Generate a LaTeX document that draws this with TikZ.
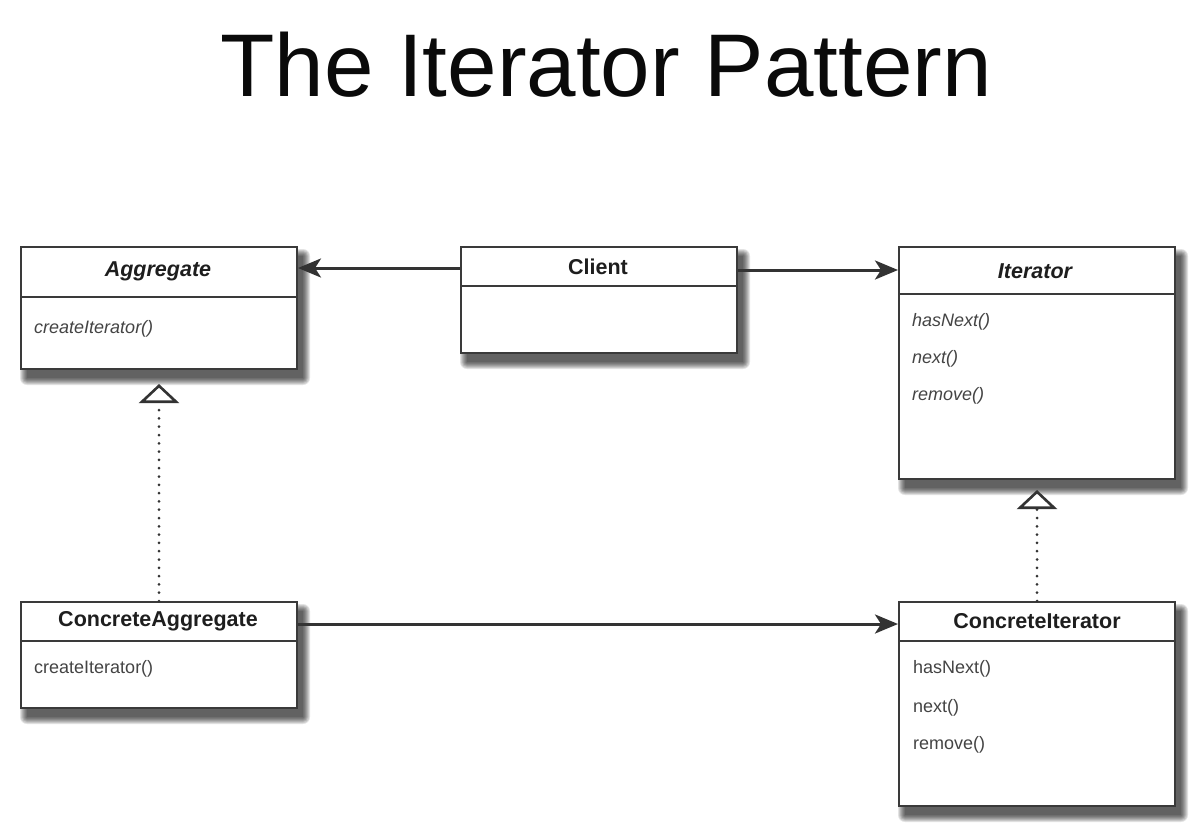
\documentclass[tikz,border=0pt]{standalone}
\usepackage{fontspec}
\setmainfont{Liberation Sans}
\usetikzlibrary{arrows.meta,calc}
\pgfdeclarelayer{bg}
\pgfdeclarelayer{shadowlayer}
\pgfsetlayers{bg,shadowlayer,main}
\definecolor{boxline}{HTML}{3A3A3A}
\definecolor{linecol}{HTML}{333333}
\definecolor{txtdark}{HTML}{1E1E1E}
\definecolor{txtmeth}{HTML}{444444}
\definecolor{titlecol}{HTML}{0A0A0A}
\tikzset{
  umlbox/.style={draw=boxline, line width=2pt, fill=white, anchor=north west, inner sep=0pt},
  hdr/.style={font=\fontsize{21.5}{24}\selectfont\bfseries, text=txtdark, inner sep=0pt},
  meth/.style={font=\fontsize{18}{22}\selectfont, text=txtmeth, anchor=west, inner sep=0pt},
  divider/.style={draw=boxline, line width=1.8pt},
  assoc/.style={draw=linecol, line width=3pt, -{Stealth[length=23pt,width=19pt,inset=6pt]}},
  realize/.style={draw=linecol, line width=3pt, line cap=round, dash pattern=on 0pt off 8.3pt,
    -{Triangle[open, length=19pt, width=40pt, fill=white, line width=2.6pt]}},
}
\newcommand\umlshadow[1]{%
  \begin{pgfonlayer}{shadowlayer}
    \foreach \i in {0,...,7}{
      \fill[black, opacity=0.11, rounded corners=\i pt]
        ($(#1.north west)+(7-\i,10-\i)$) rectangle ($(#1.south east)+(5+\i,8+\i)$);
    }
  \end{pgfonlayer}}
\begin{document}
\begin{tikzpicture}[x=1pt, y=-1pt]
  \useasboundingbox (0,0) rectangle (1196,828);
  \begin{pgfonlayer}{bg}
    \fill[white] (0,0) rectangle (1196,828);
  \end{pgfonlayer}

  \node[font=\fontsize{89}{100}\selectfont, text=titlecol, anchor=base, inner sep=0pt] (title) at (606,96) {The Iterator Pattern};

  % Aggregate
  \node[umlbox, minimum width=276pt, minimum height=122pt] (agg) at (20,246) {};
  \umlshadow{agg}
  \node[hdr, font=\fontsize{21.5}{24}\selectfont\bfseries\itshape] (aggH) at (158,271) {Aggregate};
  \draw[divider] (agg.west |- 0,297) -- (agg.east |- 0,297);
  \node[meth, font=\fontsize{18}{22}\selectfont\itshape] (aggM1) at (34,329) {createIterator()};

  % Client
  \node[umlbox, minimum width=276pt, minimum height=106pt] (client) at (460,246) {};
  \umlshadow{client}
  \node[hdr] (clientH) at (598,267) {Client};
  \draw[divider] (client.west |- 0,286) -- (client.east |- 0,286);

  % Iterator
  \node[umlbox, minimum width=276pt, minimum height=232pt] (iter) at (898,246) {};
  \umlshadow{iter}
  \node[hdr, font=\fontsize{21.5}{24}\selectfont\bfseries\itshape] (iterH) at (1035,271) {Iterator};
  \draw[divider] (iter.west |- 0,294) -- (iter.east |- 0,294);
  \node[meth, font=\fontsize{18}{22}\selectfont\itshape] (iterM1) at (912,322) {hasNext()};
  \node[meth, font=\fontsize{18}{22}\selectfont\itshape] (iterM2) at (912,359) {next()};
  \node[meth, font=\fontsize{18}{22}\selectfont\itshape] (iterM3) at (912,396) {remove()};

  % ConcreteAggregate
  \node[umlbox, minimum width=276pt, minimum height=106pt] (cagg) at (20,601) {};
  \umlshadow{cagg}
  \node[hdr] (caggH) at (158,621) {ConcreteAggregate};
  \draw[divider] (cagg.west |- 0,641) -- (cagg.east |- 0,641);
  \node[meth] (caggM1) at (34,669) {createIterator()};

  % ConcreteIterator
  \node[umlbox, minimum width=276pt, minimum height=204pt] (citer) at (898,601) {};
  \umlshadow{citer}
  \node[hdr] (citerH) at (1037,621) {ConcreteIterator};
  \draw[divider] (citer.west |- 0,641) -- (citer.east |- 0,641);
  \node[meth] (citerM1) at (913,669) {hasNext()};
  \node[meth] (citerM2) at (913,708) {next()};
  \node[meth] (citerM3) at (913,745) {remove()};

  % associations
  \draw[assoc] (client.west |- 0,268) -- (agg.east |- 0,268);
  \draw[assoc] (client.east |- 0,270) -- (iter.west |- 0,270);
  \draw[assoc] (cagg.east |- 0,624) -- (citer.west |- 0,624);

  % realizations
  \coordinate (aggTip) at (159,384);
  \coordinate (iterTip) at (1037,490);
  \draw[realize] (cagg.north -| aggTip) -- (aggTip);
  \draw[realize] (citer.north -| iterTip) -- (iterTip);
\end{tikzpicture}
\end{document}
